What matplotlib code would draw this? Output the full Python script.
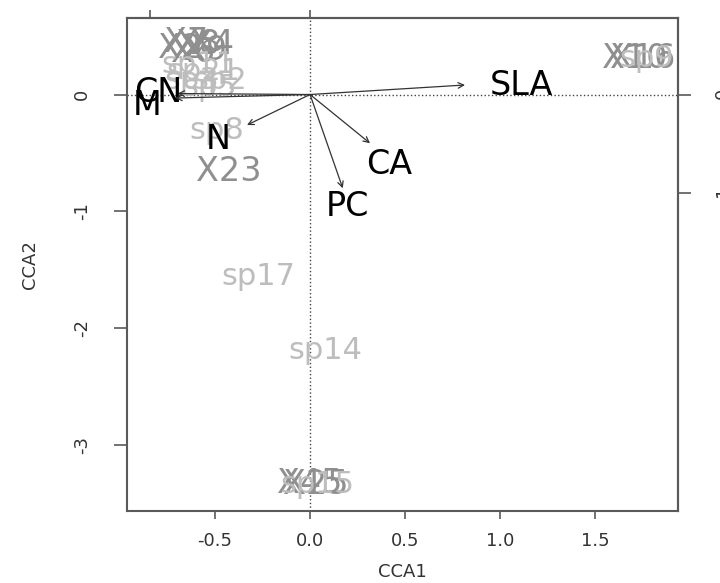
import matplotlib
matplotlib.use("Agg")
import matplotlib.pyplot as plt

# site scores (grey "X" labels)
site_labels = ["X2", "X7", "X8", "X6", "X9", "X4", "X23", "X10", "X16", "X45", "X25"]
site_x = [-0.684, -0.653, -0.589, -0.616, -0.553, -0.516, -0.426, 1.71, 1.75, 0.00, 0.03]
site_y = [0.398, 0.449, 0.424, 0.364, 0.381, 0.432, -0.655, 0.31, 0.31, -3.33, -3.34]

# species scores (light grey "sp" labels)
sp_labels = ["sp11", "sp21", "sp3", "sp2", "sp5", "sp8", "sp17", "sp14", "sp9", "sp15"]
sp_x = [-0.589, -0.563, -0.621, -0.474, -0.526, -0.489, -0.274, 0.079, 1.77, 0.04]
sp_y = [0.261, 0.193, 0.124, 0.124, 0.064, -0.304, -1.555, -2.196, 0.31, -3.34]

# biplot arrows (in biplot units) and their label positions (plot units)
env_labels = ["SLA", "CA", "PC", "N", "CN", "M"]
env_x = [0.971, 0.376, 0.205, -0.395, -0.83, -0.845]
env_y = [0.097, -0.497, -0.956, -0.311, 0.01, -0.036]
env_lab_x = [1.111, 0.416, 0.195, -0.484, -0.80, -0.86]
env_lab_y = [0.077, -0.595, -0.955, -0.381, 0.013, -0.098]
mul = 0.84  # arrow scaling

xticks = [-0.5, 0.0, 0.5, 1.0, 1.5]
yticks = [0, -1, -2, -3]
arrow_ticks = [-1, 0]

fig = plt.figure(figsize=(7.2, 5.83), dpi=100)
ax = fig.add_axes([0.176, 0.1235, 0.766, 0.845])
ax.set_xlim(-0.965, 1.938)
ax.set_ylim(-3.566, 0.652)

frame = "#5a5a5a"
for s in ax.spines.values():
    s.set_color(frame)
    s.set_linewidth(1.5)

ax.axhline(0, ls=":", color="#444444", lw=1)
ax.axvline(0, ls=":", color="#444444", lw=1)

for lab, x, y in zip(site_labels, site_x, site_y):
    ax.text(x, y, lab, color="#8f8f8f", fontsize=24, ha="center", va="center", clip_on=True)
for lab, x, y in zip(sp_labels, sp_x, sp_y):
    ax.text(x, y, lab, color="#bdbdbd", fontsize=22, ha="center", va="center", clip_on=True)

for lab, x, y, lx, ly in zip(env_labels, env_x, env_y, env_lab_x, env_lab_y):
    ax.annotate("", xy=(x * mul, y * mul), xytext=(0, 0),
                arrowprops=dict(arrowstyle="->", color="#333333", lw=0.9,
                                mutation_scale=10, shrinkA=0, shrinkB=0))
    ax.text(lx, ly, lab, color="black", fontsize=24, ha="center", va="center", clip_on=True)

ax.set_xticks(xticks)
ax.set_xticklabels(["%.1f" % t for t in xticks])
ax.set_yticks(yticks)
ax.set_yticklabels([str(t) for t in yticks])
ax.tick_params(axis="x", length=6, width=1.2, color=frame, pad=9, labelsize=13, labelcolor="#333333")
ax.tick_params(axis="y", length=9.5, width=1.2, color=frame, pad=16, labelsize=13,
               labelcolor="#333333", labelrotation=90)
for t in ax.get_yticklabels():
    t.set_va("center")

# secondary axes for the biplot arrows
top = ax.secondary_xaxis("top", functions=(lambda v: v / mul, lambda v: v * mul))
top.set_xticks(arrow_ticks)
top.tick_params(length=6, width=1.2, color=frame, pad=9, labelsize=13, labelcolor="#333333")
right = ax.secondary_yaxis("right", functions=(lambda v: v / mul, lambda v: v * mul))
right.set_yticks(arrow_ticks)
right.tick_params(length=9.5, width=1.2, color=frame, pad=16, labelsize=13,
                  labelcolor="#333333", labelrotation=90)
for sp in list(top.spines.values()) + list(right.spines.values()):
    sp.set_color(frame)
    sp.set_linewidth(1.5)

ax.set_xlabel("CCA1", fontsize=13, color="#333333")
ax.xaxis.set_label_coords(0.5, -0.124)
ax.xaxis.label.set_va("center")
ax.set_ylabel("CCA2", fontsize=13, color="#333333")
ax.yaxis.set_label_coords(-0.175, 0.5)
ax.yaxis.label.set_va("center")
ax.yaxis.label.set_ha("center")

fig.savefig("out.png", dpi=100)
